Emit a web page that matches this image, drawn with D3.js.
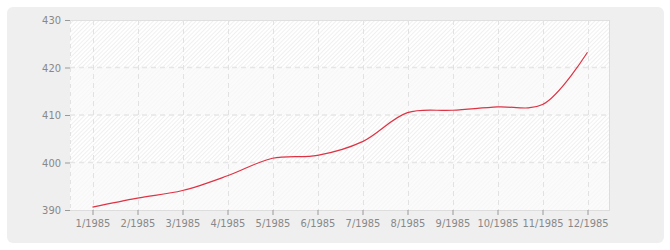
<!DOCTYPE html>
<html><head><meta charset="utf-8">
<script src="https://cdn.jsdelivr.net/npm/d3@7"></script>
<style>html,body{margin:0;padding:0;background:#fff;}svg{display:block;}</style>
</head><body>
<svg id="chart" width="670" height="250"></svg>
<script>
const categories = ["1/1985","2/1985","3/1985","4/1985","5/1985","6/1985","7/1985","8/1985","9/1985","10/1985","11/1985","12/1985"];
const values = [390.6, 392.5, 394.1, 397.2, 400.9, 401.5, 404.4, 410.5, 411.0, 411.7, 412.2, 423.2];
const yTicks = [390, 400, 410, 420, 430];

const svg = d3.select("#chart");
const W = 670, H = 250;
const m = {left: 70, right: 60, top: 20, bottom: 40};
const pw = W - m.left - m.right, ph = H - m.top - m.bottom;
const font = "'DejaVu Sans Condensed','DejaVu Sans',sans-serif";

svg.append("rect").attr("x", 7).attr("y", 7).attr("width", 657).attr("height", 236)
  .attr("rx", 6).attr("fill", "#efefef");

const defs = svg.append("defs");
const pat = defs.append("pattern").attr("id", "hatch").attr("patternUnits", "userSpaceOnUse")
  .attr("width", 3).attr("height", 3).attr("patternTransform", "rotate(45)");
pat.append("rect").attr("width", 3).attr("height", 3).attr("fill", "#ffffff");
pat.append("line").attr("x1", 0.5).attr("y1", 0).attr("x2", 0.5).attr("y2", 3)
  .attr("stroke", "#f0f0f0").attr("stroke-width", 1);

const x = d3.scalePoint().domain(categories).range([m.left, m.left + pw]).padding(0.5);
const y = d3.scaleLinear().domain([390, 430]).range([m.top + ph, m.top]);

svg.append("rect").attr("x", m.left).attr("y", m.top).attr("width", pw).attr("height", ph)
  .attr("fill", "url(#hatch)");
// alternate lighter bands
[[410, 420], [390, 400]].forEach(b => {
  svg.append("rect").attr("x", m.left).attr("y", y(b[1])).attr("width", pw)
    .attr("height", y(b[0]) - y(b[1])).attr("fill", "#fafafa").attr("opacity", 0.7);
});

// plot borders
svg.append("line").attr("x1", m.left).attr("x2", m.left + pw).attr("y1", m.top + 0.5).attr("y2", m.top + 0.5)
  .attr("stroke", "#e0e0e0");
svg.append("line").attr("x1", m.left + pw - 0.5).attr("x2", m.left + pw - 0.5).attr("y1", m.top).attr("y2", m.top + ph)
  .attr("stroke", "#dddddd");
svg.append("line").attr("x1", m.left + 0.5).attr("x2", m.left + 0.5).attr("y1", m.top).attr("y2", m.top + ph)
  .attr("stroke", "#e2e2e2").attr("stroke-dasharray", "4,4");

// grid
const g = svg.append("g");
yTicks.filter(t => t > 390 && t < 430).forEach(t => {
  g.append("line").attr("x1", m.left).attr("x2", m.left + pw).attr("y1", y(t)).attr("y2", y(t))
    .attr("stroke", "#e6e6e6").attr("stroke-width", 1.5).attr("stroke-dasharray", "5,4");
});
categories.forEach(c => {
  g.append("line").attr("x1", Math.round(x(c)) + 0.5).attr("x2", Math.round(x(c)) + 0.5)
    .attr("y1", m.top).attr("y2", m.top + ph)
    .attr("stroke", "#e2e2e2").attr("stroke-dasharray", "5,4");
});

// axes
const yAxis = svg.append("g").attr("transform", `translate(${m.left},0)`)
  .call(d3.axisLeft(y).tickValues(yTicks).tickSize(5).tickPadding(4));
const xAxis = svg.append("g").attr("transform", `translate(0,${m.top + ph})`)
  .call(d3.axisBottom(x).tickSize(5).tickPadding(4));
[yAxis, xAxis].forEach(a => {
  a.select(".domain").attr("stroke", "#aaaaaa");
  a.selectAll(".tick line").attr("stroke", "#999999");
  a.selectAll("text").attr("fill", "#888888").style("font-family", font).style("font-size", "11px");
});
xAxis.select(".domain").attr("d", `M${m.left},0.5H${m.left + pw}`).attr("stroke", "#dddddd");
yAxis.select(".domain").remove();

// line
const line = d3.line().x((d, i) => x(categories[i])).y(d => y(d)).curve(d3.curveCatmullRom.alpha(0.5));
svg.append("path").datum(values).attr("d", line).attr("fill", "none")
  .attr("stroke", "#dd3344").attr("stroke-width", 1.2);
</script>
</body></html>
